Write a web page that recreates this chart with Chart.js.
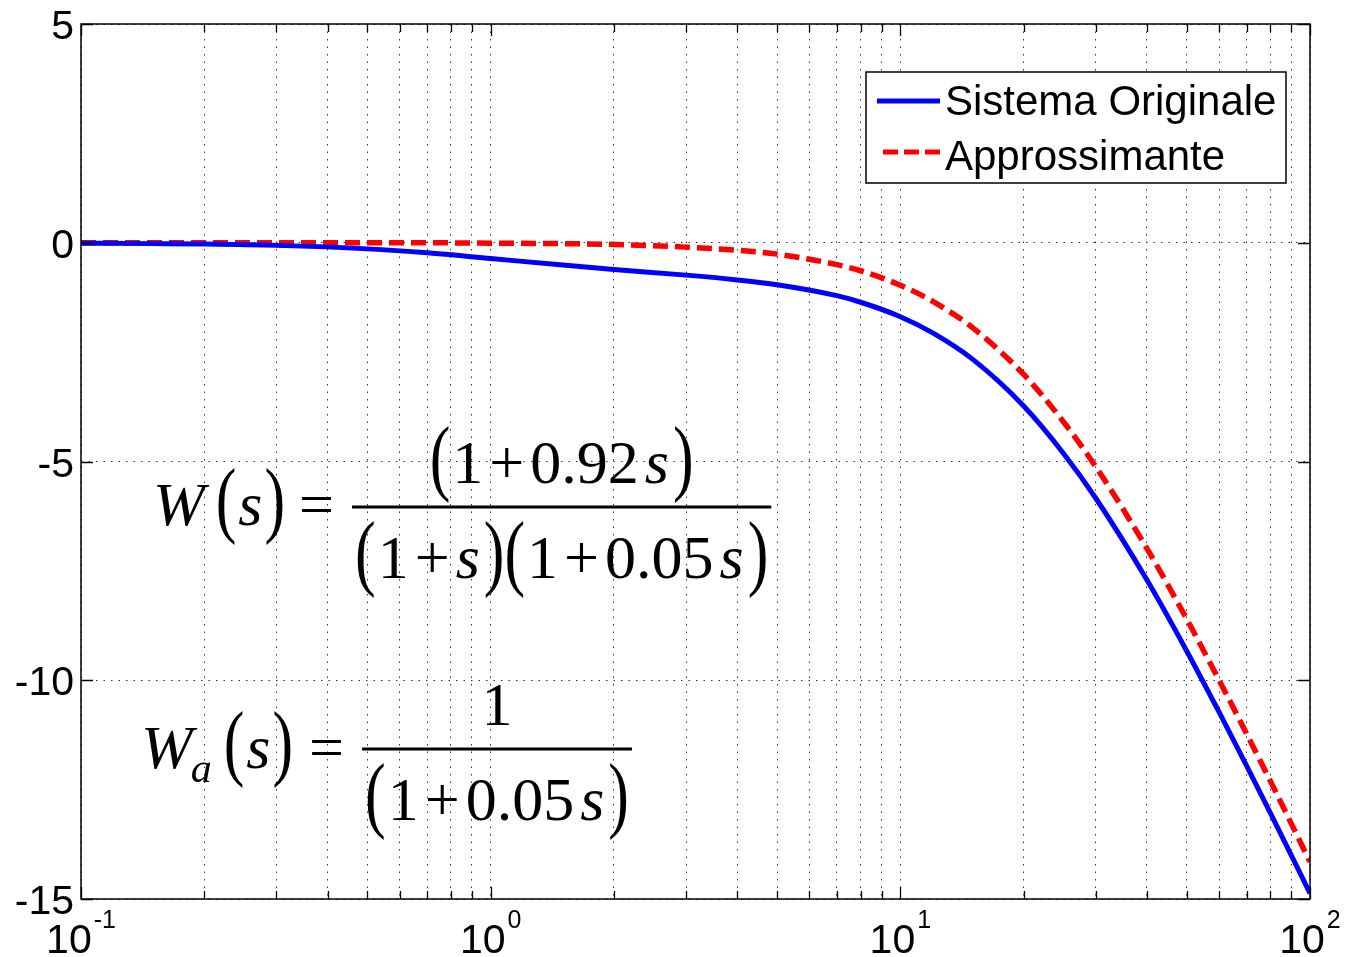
<!DOCTYPE html>
<html>
<head>
<meta charset="utf-8">
<script src="https://cdn.jsdelivr.net/npm/chart.js@4.4.0/dist/chart.umd.min.js"></script>
<style>
  html, body { margin: 0; padding: 0; background: #fff; }
</style>
</head>
<body>
<canvas id="bode" width="1345" height="957"></canvas>
<script>
// Data
//==============================
var freq = [0.1, 0.15, 0.2, 0.3, 0.5, 0.7, 1, 1.5, 2, 3, 4, 5, 7, 8, 10, 12, 15, 20, 25, 30, 40, 50, 60, 70, 80, 100];
var originale = [-0.01, -0.02, -0.03, -0.06, -0.14, -0.23, -0.36, -0.51, -0.61, -0.74, -0.85, -0.96, -1.21, -1.36, -1.69, -2.06, -2.66, -3.73, -4.81, -5.84, -7.71, -9.33, -10.73, -11.95, -13.03, -14.87];
var approssimante = [0, 0, 0, 0, 0, 0, -0.01, -0.02, -0.04, -0.10, -0.17, -0.26, -0.50, -0.64, -0.97, -1.34, -1.94, -3.01, -4.09, -5.12, -6.99, -8.60, -10.0, -11.22, -12.30, -14.15];
var seriesNames = ["Sistema Originale", "Approssimante"];

var xMajor = [0.1, 1, 10, 100];
var xExp = ["-1", "0", "1", "2"];
var xMinor = [2, 3, 4, 5, 6, 7, 8, 9];
var yTicks = [5, 0, -5, -10, -15];

var BLUE = "#0000ff";
var RED = "#ff0000";

function points(ys) {
  return freq.map(function (f, i) { return { x: f, y: ys[i] }; });
}

// all log ticks: majors plus 2..9 inside each decade
var xAll = [];
for (var d = 0; d < xMajor.length; d++) {
  xAll.push(xMajor[d]);
  if (d < xMajor.length - 1) {
    for (var m = 0; m < xMinor.length; m++) {
      xAll.push(+(xMajor[d] * xMinor[m]).toPrecision(3));
    }
  }
}

// Math text helper (formula drawn piece by piece)
//==============================
function mathRow(ctx, parts, x, base, draw) {
  var cx = x;
  parts.forEach(function (p) {
    ctx.font = (p.it ? "italic " : "") + p.sz + 'px "Liberation Serif"';
    var w = ctx.measureText(p.t).width;
    cx += p.pre || 0;
    if (draw) {
      ctx.save();
      ctx.translate(cx, base + (p.dy || 0));
      if (p.sy) ctx.scale(1, p.sy);
      ctx.fillText(p.t, 0, 0);
      ctx.restore();
    }
    cx += w + (p.post || 0);
  });
  return cx - x;
}

var FS = 62;
var PS = 1.38;
function lp(pre) { return { t: "(", sz: FS, sy: PS, dy: 2, pre: pre || 0 }; }
function rp(pre) { return { t: ")", sz: FS, sy: PS, dy: 2, pre: pre || 0 }; }
function num(t, pre) { return { t: t, sz: FS, pre: pre || 0 }; }
function it(t, pre) { return { t: t, sz: FS, it: true, pre: pre || 0 }; }
function plus() { return { t: "+", sz: FS, pre: 6, post: 6 }; }

function drawFraction(ctx, lhs, top, bottom, x, base, barY) {
  ctx.fillStyle = "#000";
  ctx.textAlign = "left";
  ctx.textBaseline = "alphabetic";
  var lw = mathRow(ctx, lhs, x, base, true);
  var bx = x + lw + 18;
  var dw = mathRow(ctx, bottom, 0, 0, false);
  var nw = mathRow(ctx, top, 0, 0, false);
  var bw = dw + 6;
  ctx.fillRect(bx, barY - 1.5, bw, 3);
  mathRow(ctx, top, bx + (bw - nw) / 2, barY - 24, true);
  mathRow(ctx, bottom, bx + 3, barY + 71, true);
}

// Plugin: box, ticks, labels, legend, formulas
//==============================
var decor = {
  id: "decor",
  afterDraw: function (chart) {
    var ctx = chart.ctx;
    var a = chart.chartArea;
    var xs = chart.scales.x;
    var ys = chart.scales.y;
    ctx.save();

    // box
    ctx.strokeStyle = "#000";
    ctx.lineWidth = 1.5;
    ctx.strokeRect(a.left, a.top, a.right - a.left, a.bottom - a.top);

    // tick marks inside the box
    ctx.lineWidth = 1.3;
    ctx.beginPath();
    xAll.forEach(function (v) {
      var px = Math.round(xs.getPixelForValue(v)) + 0.5;
      var len = xMajor.indexOf(v) >= 0 ? 12 : 8;
      ctx.moveTo(px, a.bottom); ctx.lineTo(px, a.bottom - len);
      ctx.moveTo(px, a.top); ctx.lineTo(px, a.top + len);
    });
    yTicks.forEach(function (v) {
      var py = Math.round(ys.getPixelForValue(v)) + 0.5;
      ctx.moveTo(a.left, py); ctx.lineTo(a.left + 12, py);
      ctx.moveTo(a.right, py); ctx.lineTo(a.right - 12, py);
    });
    ctx.stroke();

    // y tick labels
    ctx.fillStyle = "#000";
    ctx.font = '41px "Liberation Sans"';
    ctx.textAlign = "right";
    ctx.textBaseline = "alphabetic";
    yTicks.forEach(function (v) {
      ctx.fillText(String(v), a.left - 7, ys.getPixelForValue(v) + 15);
    });

    // x tick labels 10^n
    ctx.textAlign = "left";
    xMajor.forEach(function (v, i) {
      ctx.font = '41px "Liberation Sans"';
      var w1 = ctx.measureText("10").width;
      ctx.font = '25px "Liberation Sans"';
      var w2 = ctx.measureText(xExp[i]).width;
      var x0 = xs.getPixelForValue(v) - (w1 + w2 + 2) / 2;
      ctx.font = '41px "Liberation Sans"';
      ctx.fillText("10", x0, 953);
      ctx.font = '25px "Liberation Sans"';
      ctx.fillText(xExp[i], x0 + w1 + 2, 928);
    });

    // legend
    var lx = 866, ly = 72, lw = 420, lh = 111;
    ctx.fillStyle = "#fff";
    ctx.fillRect(lx, ly, lw, lh);
    ctx.strokeStyle = "#000";
    ctx.lineWidth = 1.5;
    ctx.strokeRect(lx, ly, lw, lh);
    ctx.lineWidth = 5;
    ctx.strokeStyle = BLUE;
    ctx.beginPath(); ctx.moveTo(877, 101); ctx.lineTo(940, 101); ctx.stroke();
    ctx.strokeStyle = RED;
    ctx.setLineDash([15, 6]);
    ctx.beginPath(); ctx.moveTo(883, 152); ctx.lineTo(940, 152); ctx.stroke();
    ctx.setLineDash([]);
    ctx.fillStyle = "#000";
    ctx.font = '42px "Liberation Sans"';
    ctx.fillText(seriesNames[0], 945, 115);
    ctx.fillText(seriesNames[1], 945, 170);

    // formulas
    drawFraction(ctx,
      [it("W"), lp(11), it("s", 2), rp(2), { t: "=", sz: FS, pre: 14 }],
      [lp(), num("1", 2), plus(), num("0.92"), it("s", 6), rp(4)],
      [lp(), num("1", 2), plus(), it("s"), rp(4), lp(), num("1", 2), plus(), num("0.05"), it("s", 6), rp(4)],
      153, 525, 507);
    drawFraction(ctx,
      [it("W"), { t: "a", sz: 42, it: true, dy: 14, pre: -2 }, lp(12), it("s", 2), rp(2), { t: "=", sz: FS, pre: 16 }],
      [num("1")],
      [lp(), num("1", 2), plus(), num("0.05"), it("s", 6), rp(4)],
      141, 768, 749);

    ctx.restore();
  }
};

// Chart
//==============================
var ctx = document.getElementById("bode").getContext("2d");
var bodeChart = new Chart(ctx, {
  type: "line",
  data: {
    datasets: [{
      label: seriesNames[0],
      data: points(originale),
      borderColor: BLUE,
      borderWidth: 5,
      pointRadius: 0,
      cubicInterpolationMode: "monotone",
      fill: false
    }, {
      label: seriesNames[1],
      data: points(approssimante),
      borderColor: RED,
      borderWidth: 5.5,
      borderDash: [15, 7],
      pointRadius: 0,
      cubicInterpolationMode: "monotone",
      fill: false
    }]
  },
  options: {
    responsive: false,
    animation: false,
    events: [],
    layout: { padding: { left: 81, right: 35, top: 24, bottom: 58 } },
    plugins: { legend: { display: false }, tooltip: { enabled: false } },
    scales: {
      x: {
        type: "logarithmic",
        min: 0.1,
        max: 100,
        afterBuildTicks: function (scale) {
          scale.ticks = xAll.map(function (v) { return { value: v }; });
        },
        ticks: { display: false },
        grid: { color: "#333", lineWidth: 1, drawTicks: false },
        border: { display: false, dash: [1.5, 6] }
      },
      y: {
        min: -15,
        max: 5,
        afterBuildTicks: function (scale) {
          scale.ticks = yTicks.map(function (v) { return { value: v }; });
        },
        ticks: { display: false },
        grid: { color: "#333", lineWidth: 1, drawTicks: false },
        border: { display: false, dash: [1.5, 6] }
      }
    }
  },
  plugins: [decor]
});
</script>
</body>
</html>
